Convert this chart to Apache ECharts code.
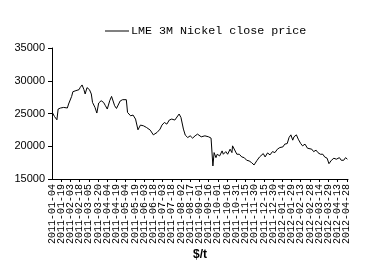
<!DOCTYPE html>
<html>
<head>
<meta charset="utf-8">
<script src="https://cdn.jsdelivr.net/npm/echarts@6/dist/echarts.min.js"></script>
<style>html,body{margin:0;padding:0;background:#fff}#c{width:373px;height:273px}</style>
</head>
<body>
<div id="c"></div>
<script>
// Days since 2011-01-04
var startDate = '2011-01-04';
var dayOffsets = [1,4,8,10,14,19,22,25,27,32,34,39,44,46,49,52,54,57,61,64,66,70,73,76,80,84,87,90,94,97,100,102,105,108,111,115,121,123,128,132,136,140,144,149,154,156,160,165,171,176,179,183,187,191,195,200,203,207,210,214,217,221,
225,229,233,237,240,243,246,249,255,259,261,262,264,267,269,273,277,279,283,286,290,293,294,297,301,305,309,313,317,321,325,329,332,334,338,340,344,347,351,355,359,363,367,371,376,379,383,386,389,392,394,398,401,405,408,412,416,419,423,426,430,433,437,441,444,448,451,455,459,463,468,471,475,478,481];
var closePrice = [25070,24550,24040,25680,25840,25930,26190,25840,26450,27610,28330,28490,28640,28990,29360,28640,27980,28950,28640,27980,26690,25930,25070,26600,26950,26690,26190,25680,26950,27610,27610,26190,25770,25770,26910,27110,27110,25160,24650,24760,24150,22510,23230,23120,22860,22970,22460,21740,22100,22620,23230,23630,23380,24000,24150,24000,24240,24920,24390,22620,21700,21330,
21590,21240,21590,21850,22100,21440,21740,21590,21440,21240,21080,16990,19030,18260,18780,18520,19290,18780,19180,18780,19550,19030,20060,19800,18780,18780,18370,18260,17860,17760,17500,17140,16840,17860,18370,18170,18880,18370,18980,18680,19180,19030,19550,19800,19900,20320,20410,21330,21740,20930,21440,21740,21080,20410,20060,20320,19700,19900,19550,19180,19400,19030,18780,18780,18370,18170,17340,17860,18170,18020,18260,17860,17860,18260,18020];
var yTicks = [15000,20000,25000,30000,35000];
var seriesName = 'LME 3M Nickel close price';
var axisName = '$/t';

function dayToLabel(d){
  var base = Date.UTC(2011,0,4);
  var t = new Date(base + d*86400000);
  var m = t.getUTCMonth()+1, dd = t.getUTCDate();
  return t.getUTCFullYear()+'-'+(m<10?'0':'')+m+'-'+(dd<10?'0':'')+dd;
}

var labelStyle = {rotate:90, margin:5, color:'#000', fontFamily:'Liberation Mono', fontSize:10};
var data = dayOffsets.map(function(d,i){return [d, closePrice[i]];});
var chart = echarts.init(document.getElementById('c'), null, {renderer:'canvas'});
chart.setOption({
  animation:false,
  backgroundColor:'#fff',
  legend:{
    left:100, top:20,
    icon:'rect', itemWidth:24, itemHeight:1,
    itemStyle:{color:'#000'},
    textStyle:{fontFamily:'Liberation Mono', fontSize:11.7, color:'#000', padding:[0,0,0,-3]},
    data:[seriesName]
  },
  grid:{left:52, top:48, width:296, height:131},
  xAxis:[{
    type:'value', min:0, max:482, interval:15,
    name:axisName, nameLocation:'middle', nameGap:70,
    nameTextStyle:{fontFamily:'Liberation Sans', fontSize:12, fontWeight:'bold', color:'#000'},
    axisLine:{lineStyle:{color:'#000', width:1}},
    axisTick:{show:true, length:3, lineStyle:{color:'#000'}},
    splitLine:{show:false},
    axisLabel:Object.assign({}, labelStyle, {showMinLabel:false, showMaxLabel:false,
      formatter:function(v){return (v>480||v<=0)?'':dayToLabel(v);}})
  },{
    type:'value', min:0, max:482, interval:15, position:'bottom',
    axisLine:{show:false}, axisTick:{show:false}, splitLine:{show:false},
    axisLabel:Object.assign({}, labelStyle, {showMinLabel:true, showMaxLabel:false,
      formatter:function(v){return v===0?dayToLabel(v):'';}})
  }],
  yAxis:{
    type:'value', min:15000, max:35000, interval:5000,
    axisLine:{show:true, lineStyle:{color:'#000', width:1}},
    axisTick:{show:true, length:4, lineStyle:{color:'#000'}},
    splitLine:{show:false},
    axisLabel:{margin:7, color:'#000', fontFamily:'Liberation Sans', fontSize:11,
      formatter:function(v){return String(v);}}
  },
  series:[{
    name:seriesName, type:'line', data:data, symbol:'none', xAxisIndex:0,
    lineStyle:{color:'#000', width:1}, itemStyle:{color:'#000'}
  }]
});
</script>
</body>
</html>
